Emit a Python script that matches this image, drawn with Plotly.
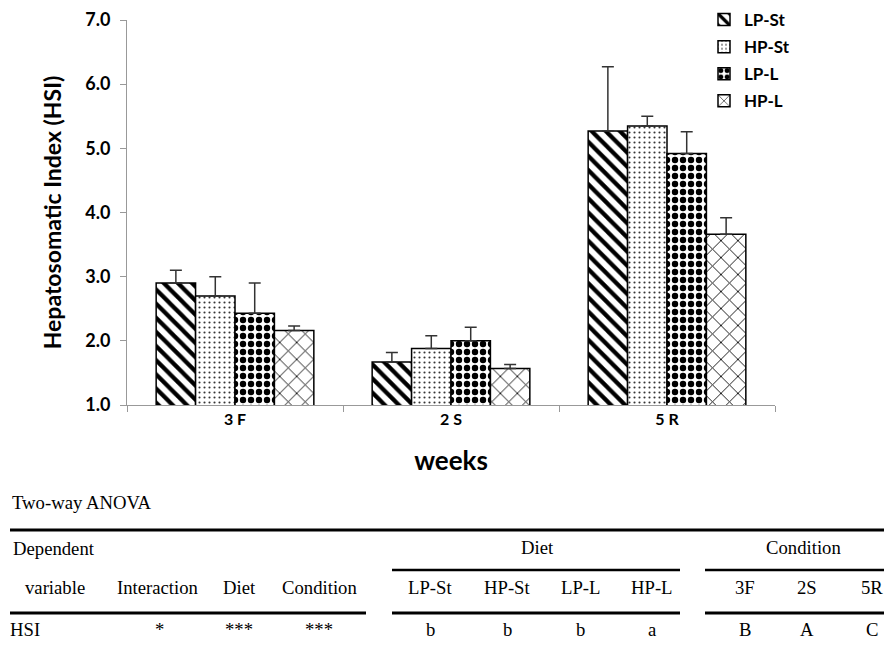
import plotly.graph_objects as go

# ---------------- data ----------------
weeks = ["3 F", "2 S", "5 R"]
series_names = ["LP-St", "HP-St", "LP-L", "HP-L"]
hsi_lp_st = [2.90, 1.67, 5.27]
hsi_hp_st = [2.70, 1.88, 5.35]
hsi_lp_l = [2.43, 2.00, 4.92]
hsi_hp_l = [2.16, 1.57, 3.66]
err_lp_st = [0.20, 0.15, 1.00]
err_hp_st = [0.30, 0.20, 0.15]
err_lp_l = [0.47, 0.21, 0.34]
err_hp_l = [0.07, 0.06, 0.26]
y_ticks = [1.0, 2.0, 3.0, 4.0, 5.0, 6.0, 7.0]

# ANOVA table
table_title = "Two-way ANOVA"
head_left = ["variable", "Interaction", "Diet", "Condition"]
diet_groups = ["LP-St", "HP-St", "LP-L", "HP-L"]
cond_groups = ["3F", "2S", "5R"]
row_label = "HSI"
row_effects = ["*", "***", "***"]
row_diet = ["b", "b", "b", "a"]
row_cond = ["B", "A", "C"]

values = [hsi_lp_st, hsi_hp_st, hsi_lp_l, hsi_hp_l]
errors = [err_lp_st, err_hp_st, err_lp_l, err_hp_l]
patterns = [
    dict(shape="\\", size=10, solidity=0.42, fgcolor="black", bgcolor="white", fgopacity=1),
    dict(shape=".", size=5, solidity=0.14, fgcolor="#333", bgcolor="white", fgopacity=1),
    dict(shape=".", size=8, solidity=0.5, fgcolor="black", bgcolor="white", fgopacity=1),
    dict(shape="x", size=12, solidity=0.14, fgcolor="black", bgcolor="white", fgopacity=1),
]

# page body has an 8px margin: figure is drawn 8px right/down of the window origin
OFF = 8
W, H = 892 - OFF, 650 - OFF
# plot area in window pixels
L, R, T, B = 127, 775, 20, 405

def px(x):
    return (x - L) / (R - L)

def py(y):
    return (B - y) / (B - T)

fig = go.Figure()
for name, vals, errs, pat in zip(series_names, values, errors, patterns):
    fig.add_trace(go.Bar(
        x=weeks, y=vals, name=name, legendgroup=name,
        marker=dict(color="white", line=dict(color="black", width=1.5), pattern=pat),
        error_y=dict(type="data", symmetric=False, array=errs,
                     arrayminus=[0] * len(errs), color="#333", thickness=1.5, width=6),
    ))

chart_font = "Lato"
fig.update_layout(
    width=W, height=H,
    margin=dict(l=L - OFF, r=W - (R - OFF), t=T - OFF, b=H - (B - OFF), autoexpand=False),
    plot_bgcolor="white", paper_bgcolor="white",
    barmode="group", bargap=0.27, bargroupgap=0,
    font=dict(family=chart_font, color="black"),
    legend=dict(x=px(704), y=py(2), xanchor="left", yanchor="top",
                font=dict(family=chart_font, size=17, color="black", weight="bold"),
                tracegroupgap=2, itemwidth=30, bgcolor="rgba(0,0,0,0)"),
    showlegend=True,
)
fig.update_yaxes(
    range=[1, 7], tickvals=y_ticks, tickformat=".1f", automargin=False,
    showgrid=False, zeroline=False,
    showline=True, linecolor="#999", linewidth=1,
    ticks="outside", ticklen=6, tickcolor="#999", ticklabelstandoff=6,
    tickfont=dict(family=chart_font, size=18, weight="bold"),
    title=dict(text="Hepatosomatic Index (HSI)", standoff=17,
               font=dict(family=chart_font, size=23, weight="bold")),
)
fig.update_xaxes(
    automargin=False,
    showgrid=False, showline=True, linecolor="#999", linewidth=1,
    ticks="outside", tickson="boundaries", ticklen=6, tickcolor="#999",
    tickfont=dict(family=chart_font, size=16, weight="bold"),
    title=dict(text="weeks", standoff=24,
               font=dict(family=chart_font, size=26, weight="bold")),
)

# ---------------- table ----------------
serif = "Liberation Serif"
tsize = 18.7

def text(x, y, s, anchor="center"):
    fig.add_annotation(x=px(x), y=py(y), xref="paper", yref="paper", text=s,
                       showarrow=False, xanchor=anchor, yanchor="middle",
                       font=dict(family=serif, size=tsize, color="black"))

def hline(x0, x1, y, w=2.5):
    fig.add_shape(type="line", xref="paper", yref="paper",
                  x0=px(x0), x1=px(x1), y0=py(y), y1=py(y),
                  line=dict(color="black", width=w))

text(10, 503, table_title, "left")
hline(10, 892, 530, 3)
text(11, 548, "Dependent", "left")
text(537, 547, "Diet")
text(803, 547, "Condition")
hline(392, 680, 570, 2.5)
hline(705, 892, 570, 2.5)
for s, x in zip(head_left, [55, 158, 239, 319]):
    text(x, 587, s)
for s, x in zip(diet_groups, [430, 507, 580, 652]):
    text(x, 587, s)
for s, x in zip(cond_groups, [745, 807, 872]):
    text(x, 587, s)
hline(10, 366, 613, 3)
hline(392, 680, 613, 3)
hline(705, 892, 613, 3)
text(8, 629, row_label, "left")
for s, x in zip(row_effects, [159, 239, 319]):
    text(x, 629, s)
for s, x in zip(row_diet, [430, 507, 580, 652]):
    text(x, 629, s)
for s, x in zip(row_cond, [745, 807, 872]):
    text(x, 629, s)

fig.write_html("out.html")
